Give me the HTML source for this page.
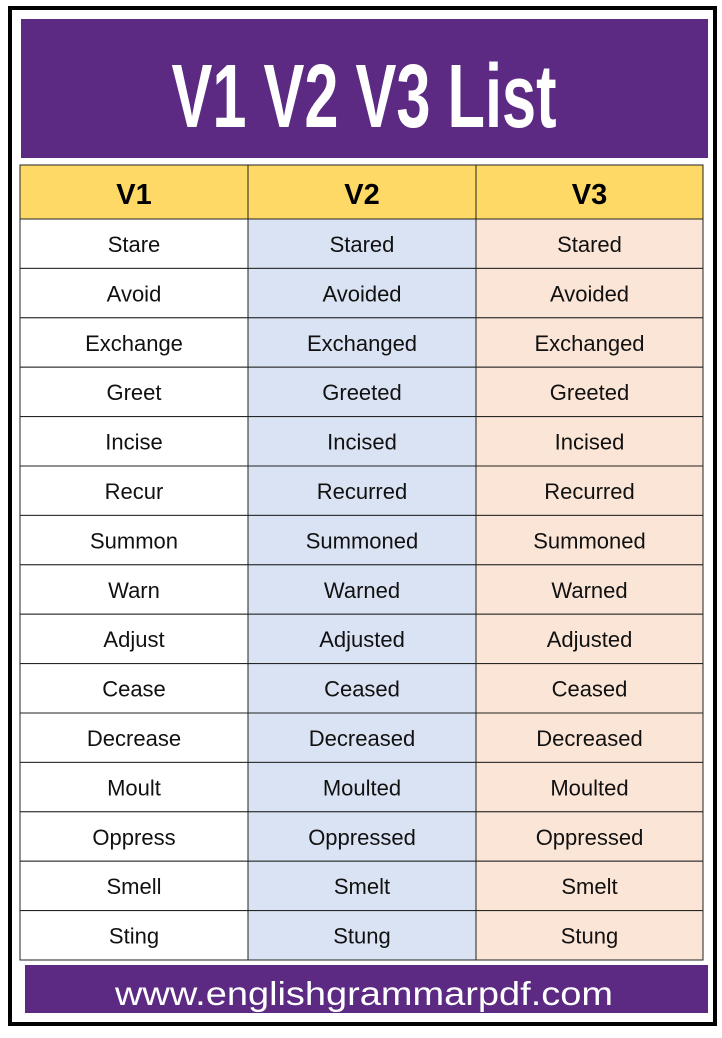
<!DOCTYPE html>
<html><head><meta charset="utf-8"><style>
body{margin:0;background:#fff;width:722px;height:1033px;overflow:hidden;font-family:"Liberation Sans",sans-serif}
</style></head><body>
<svg width="722" height="1033" xmlns="http://www.w3.org/2000/svg">
<rect x="10" y="8" width="705" height="1016" fill="#fff" stroke="#000" stroke-width="4"/>
<rect x="21" y="19" width="687" height="139" fill="#5c2a82"/>
<text x="364" y="127" text-anchor="middle" font-size="90" font-weight="bold" fill="#fff" textLength="385" lengthAdjust="spacingAndGlyphs" font-family="Liberation Sans, sans-serif">V1 V2 V3 List</text>
<g id="tbl"></g>
<rect x="25" y="965" width="683" height="48" fill="#5c2a82"/>
<text x="364" y="1005" text-anchor="middle" font-size="33" fill="#fff" textLength="498" lengthAdjust="spacingAndGlyphs" font-family="Liberation Sans, sans-serif">www.englishgrammarpdf.com</text>
</svg>
<script>
const headers=["V1","V2","V3"];
const v1=["Stare","Avoid","Exchange","Greet","Incise","Recur","Summon","Warn","Adjust","Cease","Decrease","Moult","Oppress","Smell","Sting"];
const v2=["Stared","Avoided","Exchanged","Greeted","Incised","Recurred","Summoned","Warned","Adjusted","Ceased","Decreased","Moulted","Oppressed","Smelt","Stung"];
const v3=["Stared","Avoided","Exchanged","Greeted","Incised","Recurred","Summoned","Warned","Adjusted","Ceased","Decreased","Moulted","Oppressed","Smelt","Stung"];
const NS="http://www.w3.org/2000/svg";
const g=document.getElementById('tbl');
const colX=[20,248,476,703];
const headTop=165, headH=54, rowTop=219, rowH=(960-219)/15;
const fills=["#ffffff","#dae3f3","#fbe5d6"];
function mk(tag,attrs){const e=document.createElementNS(NS,tag);for(const k in attrs)e.setAttribute(k,attrs[k]);g.appendChild(e);return e;}
headers.forEach((h,c)=>{
  const r=mk('rect',{x:colX[c],y:headTop,width:colX[c+1]-colX[c],height:headH,fill:'#ffd966',stroke:'#222','stroke-width':1});
  
  
  const t=mk('text',{x:(colX[c]+colX[c+1])/2,y:headTop+39,'text-anchor':'middle','font-size':29,'font-weight':'bold',fill:'#000'});
  t.textContent=h;
  
  
});
const cols=[v1,v2,v3];
for(let i=0;i<v1.length;i++){
  cols.forEach((arr,c)=>{
    const y=rowTop+i*rowH;
    const r=mk('rect',{x:colX[c],y:y,width:colX[c+1]-colX[c],height:rowH,fill:fills[c],stroke:'#222','stroke-width':1});
    
    
    const t=mk('text',{x:(colX[c]+colX[c+1])/2,y:y+33,'text-anchor':'middle','font-size':22,fill:'#111'});
    t.textContent=arr[i];
    
    
  });
}
</script>
</body></html>
